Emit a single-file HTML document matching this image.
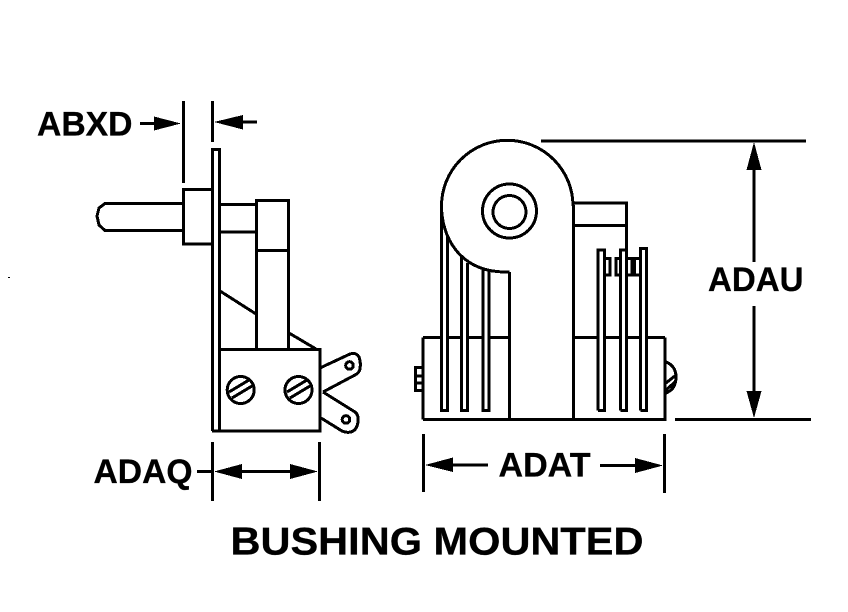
<!DOCTYPE html>
<html><head><meta charset="utf-8"><style>
html,body{margin:0;padding:0;background:#fff}
svg{display:block}
text{font-family:"Liberation Sans",sans-serif;font-weight:bold;fill:#000;stroke:#000;stroke-width:.3}
</style></head><body>
<svg width="848" height="612" viewBox="0 0 848 612" xmlns="http://www.w3.org/2000/svg">
<rect width="848" height="612" fill="#fff"/>
<g fill="none" stroke="#000" stroke-width="3" shape-rendering="crispEdges">
<!-- left view -->
<path d="M183.500 101V183M212.500 101V142M140 123.500H156M240 122H257"/>
<path d="M212.500 431V149.500H219.500V431"/>
<path d="M212 189.500H183.500V244H212"/>
<path d="M183 203.500H105L99 208L97 216L99 225L105 230.500H183"/>
<path d="M219 204.500H256M219 232H256"/>
<path d="M256.500 349V200.500H288.500V349M256 250.500H288"/>
<path d="M212 431H320V349.500H219.500"/>
<path d="M220 291L256 314M289 333L316 349"/>
<circle cx="240.700" cy="390" r="13.500"/>
<circle cx="298.500" cy="390" r="13.500"/>
<path d="M229 392L249 380M232 398L252 386M287 392L307 380M290 398L310 386"/>
<path d="M321 367.500L350 354Q356 352 359 357Q361 362 360 369Q359 373 355 375L323 392"/>
<path d="M323 392L355 412Q359 415 358 422Q357 430 351 432Q346 433 342 431L321 418"/>
<circle cx="349.500" cy="365.500" r="3.800"/>
<circle cx="346" cy="419.500" r="3.800"/>
<path d="M212.500 442V501M319.500 442V501M197 471.500H212M240 471.500H292"/>
<!-- right view -->
<path d="M573 206A65.750 65.750 0 0 0 441.500 206C441.500 235 458 272 506 272H509.500"/>
<circle cx="509.500" cy="211" r="27"/>
<circle cx="509.500" cy="212" r="16.500"/>
<path d="M573.500 205V419M509.500 272V419"/>
<path d="M574 203H626.500V249M574 225.500H626"/>
<path d="M441.500 206V410.500H447.500V235M461.500 256V410.500H467.500V263M483 270V410.500H489V271"/>
<path d="M423 337.500H441M447.500 337.500H461M467.500 337.500H483M489 337.500H509M574 337.500H598M604.500 337.500H620M626.500 337.500H640M646.500 337.500H665"/>
<path d="M423 419.500V337.500M423 419.500H665V337.500"/>
<path d="M598 410.500V250H604.500V410.500H598M620.500 410.500V250H626.500V410.500H620.500M640.500 410.500V248.500H646.500V410.500H640.500"/>
<path d="M604.500 258.500H610V275H604.500M620.500 258.500H616V275H620.500M626.500 258.500H632V275H626.500M640.500 258.500H634.500V275H640.500"/>
<path d="M423 367.500H415.500V390.500H423M415.500 376H423M415.500 383H423"/>
<path d="M666 362Q676 366 676 377Q676 389 666 393M666 383L676 375M666 390L675 382"/>
<!-- dims right -->
<path d="M541 141H806M675 419.500H811"/>
<path d="M754 165V262M754 306V395"/>
<path d="M423.500 434V492M664.500 434V493M450 465H488M600 465.500H638"/>
</g>
<g fill="#000" shape-rendering="crispEdges">
<path d="M181 123.500L154 116.500V130.500Z"/>
<path d="M214 122L243 115V129.500Z"/>
<path d="M214 471.500L242 464V479Z"/>
<path d="M318 471.500L290 464V479Z"/>
<path d="M425 465L453 457.500V472Z"/>
<path d="M663 465.500L635 458V473Z"/>
<path d="M754 142L746.500 170H761.500Z"/>
<path d="M754 418L746.500 391H761.500Z"/>
<rect x="8" y="277" width="2" height="1"/>
</g>
<text x="37" y="135.500" font-size="34" textLength="95.500" lengthAdjust="spacingAndGlyphs">ABXD</text>
<text x="93.500" y="483" font-size="34" textLength="99" lengthAdjust="spacingAndGlyphs">ADAQ</text>
<text x="498.500" y="476.500" font-size="34" textLength="92" lengthAdjust="spacingAndGlyphs">ADAT</text>
<text x="708" y="291" font-size="34" textLength="95.500" lengthAdjust="spacingAndGlyphs">ADAU</text>
<text x="230.500" y="554.500" font-size="39" textLength="413" lengthAdjust="spacingAndGlyphs">BUSHING MOUNTED</text>
</svg>
</body></html>
